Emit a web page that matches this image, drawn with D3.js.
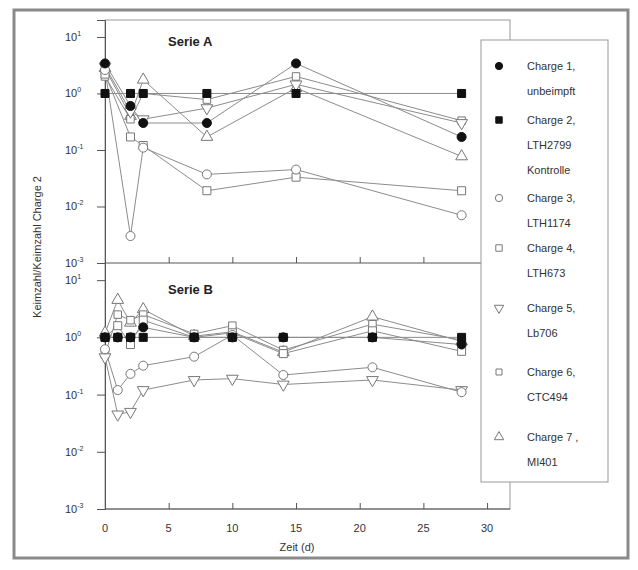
<!DOCTYPE html>
<html><head><meta charset="utf-8">
<script src="https://cdn.jsdelivr.net/npm/d3@7"></script>
<style>body{margin:0;background:#fff}svg{display:block}text{font-family:"Liberation Sans",Arial,sans-serif}</style>
</head><body>
<svg id="c" width="638" height="570"></svg>
<script>
// ---- data ----
const charges = ["Charge 1,","Charge 2,","Charge 3,","Charge 4,","Charge 5,","Charge 6,","Charge 7 ,"];
const chargeSub = [["unbeimpft"],["LTH2799","Kontrolle"],["LTH1174"],["LTH673"],["Lb706"],["CTC494"],["MI401"]];
const markers = ["circleFilled","squareFilled","circle","square","triDown","squareSmall","tri"];

const daysA = [0, 2, 3, 8, 15, 28];
const serieA = [
  [3.4, 0.6, 0.3, 0.3, 3.4, 0.17],
  [1, 1, 1, 1, 1, 1],
  [2.6, 0.003, 0.11, 0.037, 0.045, 0.007],
  [2.2, 0.17, 0.12, 0.019, 0.033, 0.019],
  [3.0, 0.48, 0.35, 0.55, 1.45, 0.30],
  [2.0, 0.35, 1.0, 0.78, 2.0, 0.33],
  [2.8, 0.40, 1.75, 0.17, 1.25, 0.077]
];
const daysB = [0, 1, 2, 3, 7, 10, 14, 21, 28];
const serieB = [
  [1.0, 1.0, 1.0, 1.5, 1.0, 1.0, 1.0, 1.0, 0.75],
  [1, 1, 1, 1, 1, 1, 1, 1, 1],
  [0.62, 0.12, 0.23, 0.32, 0.46, 1.1, 0.22, 0.30, 0.11],
  [1.0, 1.6, 0.75, 2.0, 1.0, 1.2, 0.52, 1.3, 0.57],
  [0.45, 0.045, 0.05, 0.12, 0.18, 0.19, 0.15, 0.18, 0.12],
  [0.5, 2.5, 2.0, 2.5, 1.15, 1.6, 0.6, 1.7, 0.9],
  [1.2, 4.5, 1.8, 3.1, 1.05, 1.25, 0.55, 2.3, 0.85]
];
const yTickVals = [10, 1, 0.1, 0.01, 0.001];
const yTickExp = ["1", "0", "-1", "-2", "-3"];
const xTickVals = [0, 5, 10, 15, 20, 25, 30];

// ---- drawing ----
const svg = d3.select("#c");
const x = d3.scaleLinear().domain([0, 31.8]).range([105, 510]);
const yA = d3.scaleLog().domain([1e-3, Math.pow(10, 1.3)]).range([263, 20]);
const yB = d3.scaleLog().domain([1e-3, Math.pow(10, 1.3)]).range([509, 263]);

// outer frame
svg.append("rect").attr("x", 14).attr("y", 10).attr("width", 614).attr("height", 548)
  .attr("fill", "#fff").attr("stroke", "#8a8a8a").attr("stroke-width", 3);

// plot frame
svg.append("rect").attr("x", 105).attr("y", 20).attr("width", 405).attr("height", 489)
  .attr("fill", "none").attr("stroke", "#999").attr("stroke-width", 1);

function symPath(m) {
  let type = d3.symbolCircle, size = 64;
  if (m.startsWith("square")) { type = d3.symbolSquare; size = m === "squareSmall" ? 56 : 64; }
  if (m.startsWith("tri")) { type = d3.symbolTriangle; size = 60; }
  return d3.symbol().type(type).size(size)();
}
function drawMarker(g, m, cx, cy, scale) {
  const filled = m.endsWith("Filled");
  g.append("path").attr("d", symPath(m))
    .attr("transform", `translate(${cx},${cy}) scale(${scale})` + (m === "triDown" ? " rotate(180)" : ""))
    .attr("fill", filled ? "#111" : "#fff")
    .attr("stroke", filled ? "#111" : "#777")
    .attr("stroke-width", 1 / scale);
}

function panel(days, data, y, title, titleY) {
  const g = svg.append("g");
  // y axis
  const ax = d3.axisLeft(y).tickValues(yTickVals).tickSize(8).tickFormat("");
  const ga = g.append("g").attr("transform", "translate(105,0)").call(ax);
  ga.select(".domain").attr("stroke", "#555");
  ga.selectAll(".tick line").attr("stroke", "#555");
  yTickVals.forEach((v, i) => {
    const t = g.append("text").attr("x", 65).attr("y", y(v) + 4)
      .attr("font-size", 11).attr("fill", "#333").text("10");
    t.append("tspan").attr("font-size", 7).attr("dy", -5).text(yTickExp[i]);
  });
  // bottom axis (ticks pointing up)
  const bx = d3.axisBottom(x).tickValues(xTickVals).tickSize(-6).tickFormat("");
  const gb = g.append("g").attr("transform", `translate(0,${y.range()[0]})`).call(bx);
  gb.select(".domain").attr("stroke", "#555").attr("d", "M105,0H510");
  gb.selectAll(".tick line").attr("stroke", "#555");
  // title
  g.append("text").attr("x", 168).attr("y", titleY).attr("font-size", 13)
    .attr("font-weight", "bold").attr("fill", "#222").text(title);
  // lines
  const line = d3.line().x((d, i) => x(days[i])).y(d => y(d));
  for (let s = data.length - 1; s >= 0; s--) {
    g.append("path").attr("d", line(data[s])).attr("fill", "none")
      .attr("stroke", "#8c8c8c").attr("stroke-width", 1);
  }
  for (let s = data.length - 1; s >= 0; s--) {
    data[s].forEach((v, i) => drawMarker(g, markers[s], x(days[i]), y(v), 1));
  }
}
panel(daysA, serieA, yA, "Serie A", 46);
panel(daysB, serieB, yB, "Serie B", 294);

// x tick labels & title
xTickVals.forEach(v => {
  svg.append("text").attr("x", x(v)).attr("y", 532).attr("text-anchor", "middle")
    .attr("font-size", 11).attr("fill", "#333").text(v);
});
svg.append("text").attr("x", 297).attr("y", 551).attr("text-anchor", "middle")
  .attr("font-size", 11).attr("fill", "#333").text("Zeit (d)");
svg.append("text").attr("transform", "translate(41,247) rotate(-90)").attr("text-anchor", "middle")
  .attr("font-size", 11).attr("fill", "#333").text("Keimzahl/Keimzahl Charge 2");

// legend
const lg = svg.append("g");
lg.append("rect").attr("x", 481).attr("y", 40).attr("width", 127).attr("height", 442)
  .attr("fill", "#fff").attr("stroke", "#999").attr("stroke-width", 1);
const legY = [66, 120, 198, 248, 308, 372, 437];
charges.forEach((c, i) => {
  drawMarker(lg, markers[i], 499, legY[i], 0.8);
  lg.append("text").attr("x", 527).attr("y", legY[i] + 4).attr("font-size", 11)
    .attr("fill", "#333").text(c);
  chargeSub[i].forEach((s, j) => {
    lg.append("text").attr("x", 527).attr("y", legY[i] + 4 + 25 * (j + 1)).attr("font-size", 11)
      .attr("fill", "#333").text(s);
  });
});
</script>
</body></html>
